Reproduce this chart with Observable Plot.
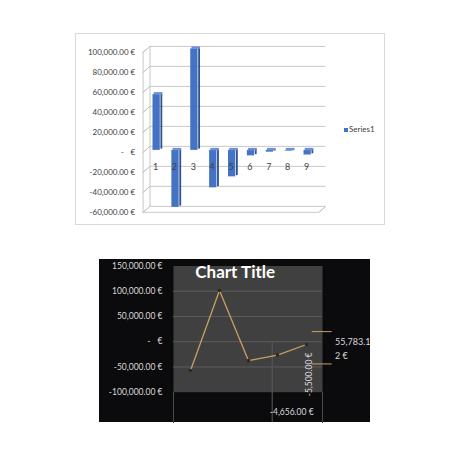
<!DOCTYPE html>
<html><head><meta charset="utf-8">
<script src="https://cdn.jsdelivr.net/npm/d3@7"></script>
<script src="https://cdn.jsdelivr.net/npm/@observablehq/plot@0.6"></script>
<style>
html,body{margin:0;padding:0;background:#fff;}
#page{position:relative;width:474px;height:474px;overflow:hidden;font-family:Lato,"Open Sans",sans-serif;}
#top{position:absolute;left:75px;top:33px;width:310px;height:192px;box-sizing:border-box;border:1px solid #d9d9d9;}
#top svg{position:absolute;left:-1px;top:-1px;}
#legendSwatch{position:absolute;left:344px;top:128px;width:4px;height:4px;background:#4472c4;}
#legendText{position:absolute;left:349px;top:125px;font:8px Lato,sans-serif;line-height:8px;color:#404040;white-space:nowrap;}
#bottom{position:absolute;left:99px;top:259px;width:271px;height:163px;background:#0b0b0d;}
#bottom svg{position:absolute;left:0;top:0;}
</style></head><body>
<div id="page">
  <div id="top"></div>
  <div id="legendSwatch"></div><div id="legendText"></div>
  <div id="bottom"></div>
</div>
<script>
// ---- data ----
const cats = [1, 2, 3, 4, 5, 6, 7, 8, 9];
const values = [55783.12, -57000, 101500, -37500, -26500, -5500, -1800, -700, -4656];
const seriesName = "Series1";
const topTicks = [-60000, -40000, -20000, 0, 20000, 40000, 60000, 80000, 100000];

const lineCats = [1, 2, 3, 4, 5];
const lineValues = [-57000, 101500, -37500, -26500, -5500];
const bottomTicks = [-100000, -50000, 0, 50000, 100000, 150000];
const bottomGrid = [-50000, 0, 50000, 100000];
const hiLoMarks = [20000, -44000];
const chartTitle = "Chart Title";

// ---- helpers ----
const fmt = v => v === 0 ? "-\u2007\u00a0€" :
  v.toLocaleString("en-US", {minimumFractionDigits: 2, maximumFractionDigits: 2}) + " €";
const bars = cats.map((c, i) => ({cat: c, value: values[i]}));
const pts = lineCats.map((c, i) => ({cat: c, value: lineValues[i]}));
const firstLabel = fmt(values[0]);
const wrapped = firstLabel.slice(0, 8) + "\n" + firstLabel.slice(8);

const grid = "#c8c8c8";
const topPlot = Plot.plot({
  width: 310, height: 192,
  marginTop: 19, marginBottom: 12, marginLeft: 68, marginRight: 65,
  style: {background: "transparent", fontFamily: "Lato, sans-serif", overflow: "visible"},
  x: {type: "band", domain: cats, padding: 0, axis: null},
  y: {domain: [-60000, 100000], axis: null},
  marks: [
    Plot.ruleY(topTicks, {dx: 7, dy: -6, stroke: grid}),
    Plot.frame({anchor: "left", stroke: grid, dx: 7, dy: -6}),
    Plot.frame({anchor: "left", stroke: grid}),
    Plot.vector(topTicks, {y: d => d, frameAnchor: "left", length: 9.2, rotate: 49, anchor: "start",
      shape: "spike", r: 0.1, stroke: grid, fill: grid, strokeWidth: 0.9}),
    Plot.ruleY([-60000], {stroke: grid}),
    Plot.vector([-60000], {y: d => d, frameAnchor: "right", length: 9.2, rotate: 49, anchor: "start",
      shape: "spike", r: 0.1, stroke: grid, fill: grid, strokeWidth: 0.9}),
    Plot.rectY(bars, {x: "cat", y: "value", fill: "#2f528f", insetLeft: 15, insetRight: 2.17, dy: -3.25}),
    Plot.rectY(bars, {x: "cat", y: "value", fill: "#4472c4", insetLeft: 7, insetRight: 4.67, dy: -2}),
    Plot.tickY(bars, {x: "cat", y: d => Math.max(0, d.value), stroke: "#6d90d6", strokeWidth: 2.5,
      insetLeft: 8.2, insetRight: 2.17, dy: -3.25}),
    Plot.text(cats, {x: d => d, y: 0, text: d => String(d), dy: 15, fontSize: 9, fill: "#404040"}),
    Plot.axisY(topTicks, {tickFormat: fmt, tickSize: 0, tickPadding: 8, fontSize: 8, fill: "#404040", label: null})
  ]
});
document.getElementById("top").appendChild(topPlot);
document.getElementById("legendText").textContent = seriesName;

const lineColor = "#c9a064";
const bottomPlot = Plot.plot({
  width: 271, height: 163,
  marginTop: 6.5, marginBottom: 30.3, marginLeft: 74, marginRight: 48,
  style: {background: "#0b0b0d", fontFamily: "Lato, sans-serif", overflow: "visible"},
  x: {type: "point", domain: lineCats, padding: 0.525, axis: null},
  y: {domain: [-100000, 150000], axis: null},
  marks: [
    Plot.frame({fill: "#404040"}),
    Plot.ruleY(bottomGrid, {stroke: "#5c5c5c"}),
    Plot.ruleX([4], {dx: -5.3, y1: 0, y2: -100000, insetBottom: -30.3, stroke: "#5a5a5a"}),
    Plot.frame({anchor: "left", insetTop: 126.2, insetBottom: -30.3, stroke: "#4a4a4a"}),
    Plot.frame({anchor: "right", insetTop: 126.2, insetBottom: -30.3, stroke: "#4a4a4a"}),
    Plot.ruleY(hiLoMarks, {insetLeft: 138.7, insetRight: -9.7, stroke: lineColor}),
    Plot.line(pts, {x: "cat", y: "value", stroke: lineColor, strokeWidth: 1.3}),
    Plot.dot(pts, {x: "cat", y: "value", r: 1.8, fill: "#2e2a22", stroke: "none"}),
    Plot.text([chartTitle], {text: d => d, frameAnchor: "top", dx: -12.8, lineAnchor: "top",
      fontSize: 17, fontWeight: "bold", fill: "#ffffff"}),
    Plot.text([wrapped], {text: d => d, y: 0, frameAnchor: "right", dx: 12.5, textAnchor: "start",
      lineAnchor: "top", dy: -6.5, lineHeight: 1.55, fontSize: 9, fill: "#d9d9d9"}),
    Plot.text([pts[4]], {x: "cat", y: "value", text: () => fmt(values[5]), rotate: -90, textAnchor: "end",
      dx: 2.5, dy: 8, fontSize: 8.5, fill: "#d9d9d9"}),
    Plot.text([pts[4]], {x: "cat", text: () => fmt(values[8]), frameAnchor: "bottom", dx: -14.8, dy: 22.3,
      fontSize: 8.5, fill: "#d9d9d9"}),
    Plot.axisY(bottomTicks, {tickFormat: fmt, tickSize: 0, tickPadding: 11, fontSize: 8.5, fill: "#d9d9d9", label: null})
  ]
});
document.getElementById("bottom").appendChild(bottomPlot);
</script>
</body></html>
